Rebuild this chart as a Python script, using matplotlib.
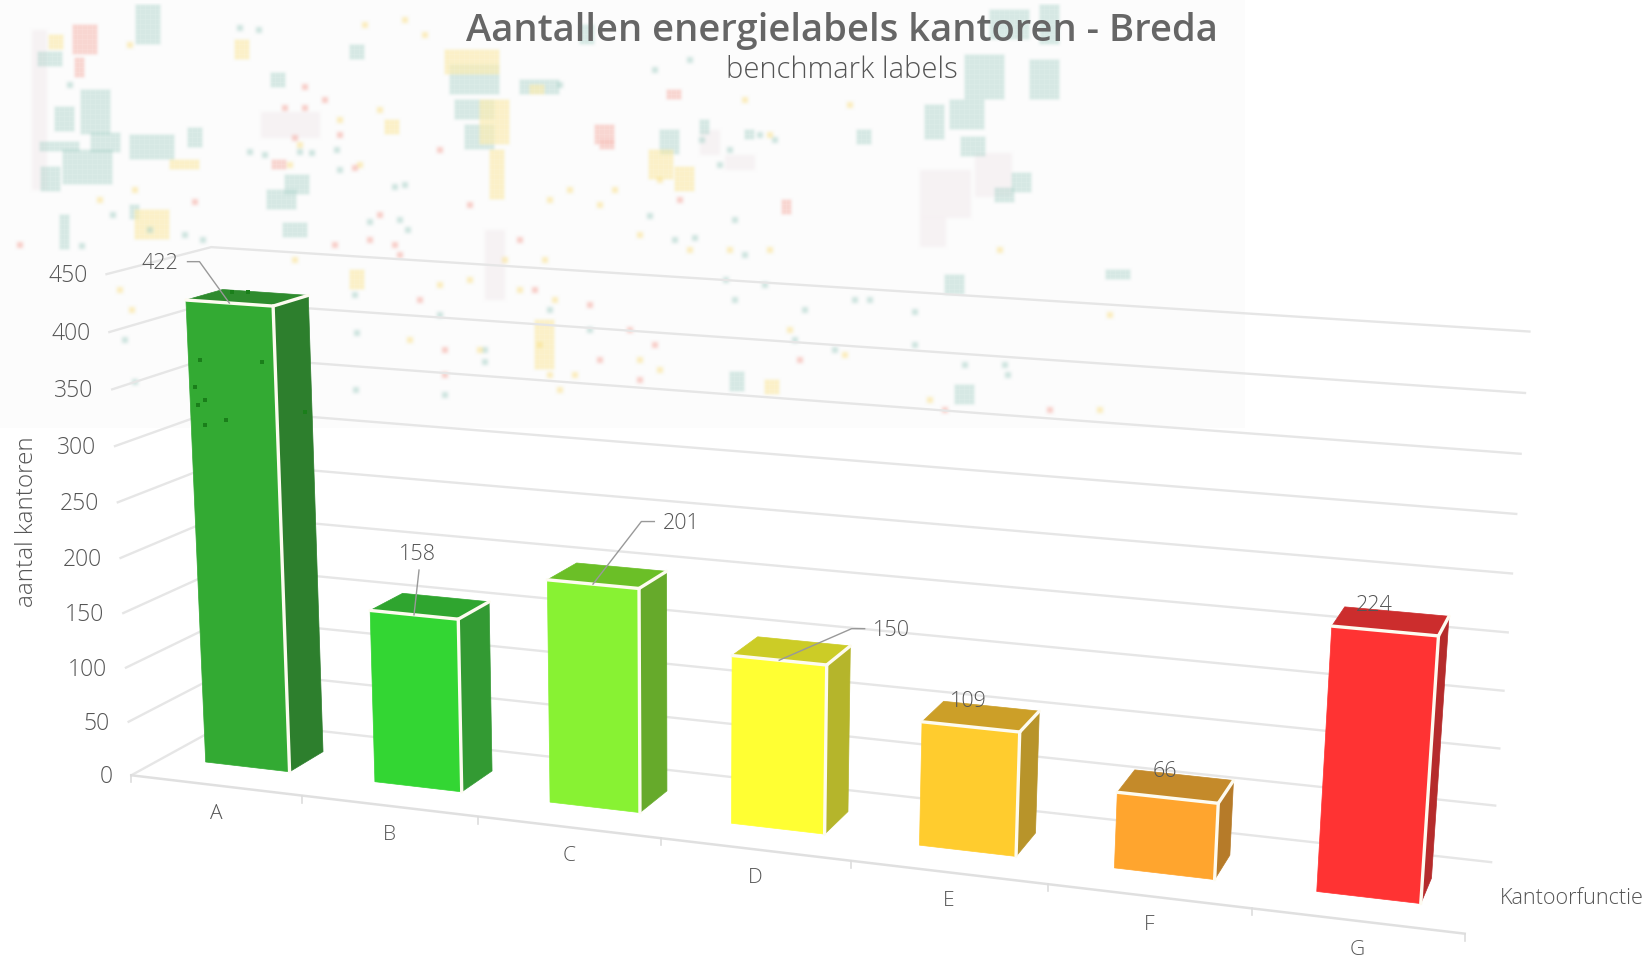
import numpy as np
import matplotlib
matplotlib.use('Agg')
import matplotlib.pyplot as plt
from matplotlib.patches import Polygon

# data
categories = ['A', 'B', 'C', 'D', 'E', 'F', 'G']
values = [422, 158, 201, 150, 109, 66, 224]
yticks = [0, 50, 100, 150, 200, 250, 300, 350, 400, 450]
front_cols = ['#33aa33', '#33d633', '#88f233', '#ffff33', '#ffcc2e', '#ffa52e', '#ff3333']
side_cols = ['#2d7f2d', '#339a33', '#66aa2b', '#b5b52b', '#b8942a', '#b67b29', '#b52b2b']
top_cols = ['#2e8b2e', '#2fa52f', '#6bbf27', '#cccc26', '#cc9f28', '#c48a2a', '#cc2d2d']
title = 'Aantallen energielabels kantoren - Breda'
subtitle = 'benchmark labels'
xtitle = 'Kantoorfunctie'
ytitle = 'aantal kantoren'

# label offsets from the bar top centre, and elbow connector yes/no
label_off = [(-88, -34), (-13, -52), (74, -52), (100, -20), (-13, -15), (-11, -15), (-17, -16)]
has_line = [True, True, True, True, False, False, False]

# map in the background, pixels of the full image: x, y, w, h
map_teal = [(136, 5, 24, 40), (38, 52, 21, 11), (81, 90, 26, 43), (55, 107, 20, 25), (40, 142, 37, 8),
            (63, 150, 46, 32), (41, 167, 18, 23), (91, 133, 28, 17), (130, 135, 44, 22), (188, 128, 12, 17),
            (271, 73, 12, 14), (267, 190, 26, 16), (285, 175, 22, 18), (283, 223, 23, 12), (520, 80, 39, 15),
            (450, 65, 50, 30), (455, 100, 40, 20), (465, 125, 30, 22), (990, 10, 40, 30), (1040, 5, 20, 40),
            (1030, 60, 30, 40), (965, 55, 40, 45), (925, 105, 20, 35), (950, 100, 35, 30), (961, 137, 22, 18),
            (1012, 173, 20, 20), (995, 188, 17, 12), (1106, 270, 22, 8), (945, 275, 20, 20), (60, 215, 8, 35),
            (130, 205, 10, 12), (350, 45, 15, 12), (580, 25, 12, 18), (660, 130, 20, 22), (700, 120, 10, 14),
            (745, 130, 8, 10), (857, 130, 15, 15), (955, 385, 20, 20), (730, 372, 12, 16)]
map_yellow = [(49, 35, 12, 12), (649, 150, 24, 27), (675, 167, 20, 23), (235, 40, 12, 20), (445, 50, 55, 25),
              (480, 100, 28, 45), (385, 120, 12, 12), (490, 150, 15, 50), (135, 210, 35, 28), (350, 270, 14, 20),
              (170, 160, 30, 8), (530, 85, 14, 8), (765, 380, 15, 15), (535, 320, 18, 50)]
map_pink = [(73, 25, 22, 27), (75, 58, 10, 17), (667, 90, 14, 10), (272, 160, 12, 6), (595, 125, 20, 20),
            (600, 140, 15, 6), (782, 200, 8, 15)]
map_grey = [(261, 112, 59, 26), (920, 170, 51, 48), (920, 217, 26, 30), (32, 30, 15, 160), (975, 153, 37, 44),
            (485, 230, 20, 70), (725, 155, 30, 15), (700, 130, 20, 25)]
dots_teal = [(240, 28), (259, 30), (70, 85), (250, 152), (265, 155), (300, 152), (337, 150), (312, 153),
             (395, 187), (340, 170), (405, 185), (370, 222), (400, 220), (408, 230), (150, 230), (113, 215),
             (185, 235), (203, 240), (355, 295), (440, 315), (357, 333), (485, 350), (485, 362), (445, 395),
             (356, 390), (82, 246), (125, 340), (135, 382), (560, 85), (655, 70), (690, 60), (702, 140),
             (730, 150), (760, 135), (775, 140), (720, 165), (650, 216), (675, 240), (695, 238), (735, 220),
             (745, 255), (765, 285), (735, 300), (855, 300), (870, 300), (805, 310), (795, 340), (915, 345),
             (915, 312), (835, 350), (965, 365), (1005, 365), (1008, 375), (726, 280), (550, 310), (590, 330)]
dots_yellow = [(130, 45), (365, 25), (405, 20), (425, 35), (340, 120), (380, 110), (300, 145), (290, 165),
               (360, 165), (135, 190), (100, 200), (120, 290), (132, 310), (295, 260), (292, 300), (410, 340),
               (440, 285), (470, 280), (480, 350), (550, 200), (570, 190), (600, 205), (615, 190), (640, 235),
               (660, 180), (690, 250), (730, 250), (745, 100), (770, 135), (850, 105), (640, 360), (660, 370),
               (770, 250), (790, 330), (845, 355), (1000, 250), (1110, 315), (1100, 410), (930, 400),
               (505, 260), (520, 290), (545, 260), (555, 300), (540, 345), (550, 375), (560, 390), (575, 375)]
dots_pink = [(305, 87), (285, 108), (305, 108), (325, 100), (295, 138), (340, 135), (355, 168), (440, 150),
             (380, 215), (370, 240), (335, 245), (395, 245), (400, 255), (20, 245), (195, 202), (470, 205),
             (420, 300), (445, 350), (445, 375), (520, 240), (535, 290), (590, 305), (630, 330), (640, 380),
             (655, 345), (600, 360), (800, 360), (1050, 410), (945, 410), (680, 200)]
dots_dark = [(200, 360), (195, 387), (198, 405), (205, 400), (226, 420), (262, 362), (305, 412), (232, 292),
             (248, 292), (205, 425)]


SCALE = 1648 / 1568
d0, d1 = .32, .68   # depth of the bars

# fixed points of the perspective view: (category pos, value, depth) -> pixel in the shrunk picture
view_world = [(0, 0, 0), (1, 0, 0), (2, 0, 0), (3, 0, 0), (4, 0, 0), (5, 0, 0), (6, 0, 0), (7, 0, 0),
              (0, 450, 0), (0, 0, 1), (7, 0, 1), (0, 450, 1), (7, 450, 1),
              (.25, 0, d0), (.25, 422, d0), (.75, 0, d0), (.75, 422, d0), (.75, 0, d1), (.75, 422, d1),
              (3.25, 0, d0), (3.25, 150, d0),
              (6.25, 0, d0), (6.25, 224, d0), (6.75, 0, d0), (6.75, 224, d0), (6.75, 0, d1), (6.75, 224, d1)]
view_pix = [(125, 737), (289, 757), (456, 776), (630, 797), (810, 820), (996, 842), (1190, 864), (1392, 886),
            (104, 262), (222, 688), (1410, 823), (205, 233), (1456, 313),
            (193, 724), (175, 287), (273, 733), (257, 293), (305, 715), (291, 279),
            (697, 783), (697, 625),
            (1257, 848), (1267, 598), (1355, 859), (1365, 605), (1369, 834), (1380, 588)]


def fit_view(world, pix):
    rows = []
    for (u, v, d), (x, y) in zip(world, pix):
        v = v / 450
        x, y = x / 1000, y / 1000
        rows.append([u, v, d, 1, 0, 0, 0, 0, -x * u, -x * v, -x * d, -x])
        rows.append([0, 0, 0, 0, u, v, d, 1, -y * u, -y * v, -y * d, -y])
    return np.linalg.svd(np.array(rows))[2][-1].reshape(3, 4)


P = fit_view(view_world, view_pix)


def proj(u, v, d):
    q = P @ np.array([u, v / 450, d, 1.0])
    return q[0] / q[2] * 1000 * SCALE, q[1] / q[2] * 1000 * SCALE


def map_image():
    # soft picture of the map, the reference has it as a faded blurred layer
    img = np.full((428, 1245, 3), 252.0)
    blocks = [(map_grey, (244, 238, 240), 0), (map_teal, (170, 210, 201), 5),
              (map_yellow, (250, 228, 140), 5), (map_pink, (245, 170, 160), 5)]
    for group, col, pitch in blocks:
        for x, y, w, h in group:
            if not pitch:
                img[y:y + h, x:x + w] = img[y:y + h, x:x + w] * .3 + np.array(col) * .7
                continue
            # a block is a bunch of small buildings
            for yy in range(y, y + h, pitch):
                for xx in range(x, x + w, pitch):
                    img[yy:yy + 4, xx:xx + 4] = img[yy:yy + 4, xx:xx + 4] * .3 + np.array(col) * .7
    for pts, col in [(dots_teal, (170, 210, 201)), (dots_yellow, (250, 225, 140)), (dots_pink, (245, 170, 160))]:
        for x, y in pts:
            img[y - 3:y + 3, x - 3:x + 3] = img[y - 3:y + 3, x - 3:x + 3] * .45 + np.array(col) * .55
    kernel = np.array([1, 2, 3, 4, 3, 2, 1]) / 16
    for ax_n in (0, 1):
        img = np.apply_along_axis(lambda m: np.convolve(m, kernel, mode='same'), ax_n, img)
    # keep the outer edges at paper colour after the blur
    img[:3] = 252
    img[:, :3] = 252
    img[:, -3:] = 252
    img[-3:] = 252
    return np.clip(img, 0, 255).astype(np.uint8)


fig = plt.figure(figsize=(16.48, 9.58), dpi=100)
ax = fig.add_axes([0, 0, 1, 1])
ax.imshow(map_image(), extent=(0, 1245, 428, 0), aspect='auto', zorder=0, interpolation='bilinear')
ax.set_xlim(0, 1648)
ax.set_ylim(958, 0)
ax.axis('off')
font = ['Open Sans', 'DejaVu Sans']
grey = '#666666'
thin = '#555555'

# walls
for t in yticks:
    a, b, c = proj(0, t, 0), proj(0, t, 1), proj(7, t, 1)
    ax.plot([a[0], b[0], c[0]], [a[1], b[1], c[1]], color='#e6e6e6', lw=1.7, zorder=2)
    ax.text(a[0] - 19, a[1] + 2, str(t), ha='right', va='center', fontsize=16.5, fontweight='light', color=thin,
            family=font, zorder=6)

# x axis
a, b = proj(0, 0, 0), proj(7, 0, 0)
ax.plot([a[0], b[0]], [a[1], b[1]], color='#e0e0e0', lw=1.8, zorder=2)
for i in range(8):
    a = proj(i, 0, 0)
    ax.plot([a[0], a[0]], [a[1], a[1] + 7], color='#dddddd', lw=1.2, zorder=2)
for i, c in enumerate(categories):
    a = proj(i + .5, 0, 0)
    ax.text(a[0], a[1] + 29, c, ha='center', va='center', fontsize=15, fontweight='light', color=thin,
            family=font, zorder=6)

# bars
for i, val in enumerate(values):
    u0, u1 = i + .25, i + .75
    flb, frb = proj(u0, 0, d0), proj(u1, 0, d0)
    flt, frt = proj(u0, val, d0), proj(u1, val, d0)
    brb, brt = proj(u1, 0, d1), proj(u1, val, d1)
    blt = proj(u0, val, d1)
    ax.add_patch(Polygon([frb, brb, brt, frt], fc=side_cols[i], ec=side_cols[i], lw=.5, zorder=3))
    ax.add_patch(Polygon([flt, frt, brt, blt], fc=top_cols[i], ec=top_cols[i], lw=.5, zorder=3))
    ax.add_patch(Polygon([flb, frb, frt, flt], fc=front_cols[i], ec=front_cols[i], lw=.5, zorder=3))
    for p, q in [(flt, frt), (frt, frb), (frt, brt)]:
        ax.plot([p[0], q[0]], [p[1], q[1]], color='#fdfbf0', lw=2.4, solid_capstyle='round', zorder=4)

    # value label
    cx, cy = proj(i + .5, val, (d0 + d1) / 2)
    tx, ty = cx + label_off[i][0], cy + label_off[i][1]
    ax.text(tx, ty, str(val), ha='center', va='center', fontsize=15.5, fontweight='light', color=thin,
            family=font, zorder=7)
    if has_line[i]:
        fx, fy = proj(i + .5, val, d0)
        if label_off[i][0] < -20:
            ax.plot([tx + 28, tx + 40, fx], [ty - 2, ty - 2, fy], color='#999999', lw=1, zorder=6)
        elif label_off[i][0] > 20:
            ax.plot([tx - 27, tx - 40, fx], [ty - 2, ty - 2, fy], color='#999999', lw=1, zorder=6)
        else:
            ax.plot([tx + 2, fx], [ty + 16, fy], color='#999999', lw=1, zorder=6)

# spots of the map that show through the first bar
xs, ys = zip(*dots_dark)
ax.scatter(xs, ys, s=10, c='#1a7f1a', marker='s', lw=0, zorder=5)

# titles
ax.text(842, 31, title, ha='center', va='center', fontsize=27.5, fontweight='semibold', color=grey, family=font, zorder=8)
ax.text(842, 70, subtitle, ha='center', va='center', fontsize=21, fontweight='light', color=thin, family=font, zorder=8)
ax.text(1572, 899, xtitle, ha='center', va='center', fontsize=15.6, fontweight='light', color=thin, family=font, zorder=8)
ax.text(27, 522, ytitle, ha='center', va='center', rotation=90, fontsize=17.5, fontweight='light', color=thin, family=font, zorder=8)

fig.savefig('out.png', dpi=100)
